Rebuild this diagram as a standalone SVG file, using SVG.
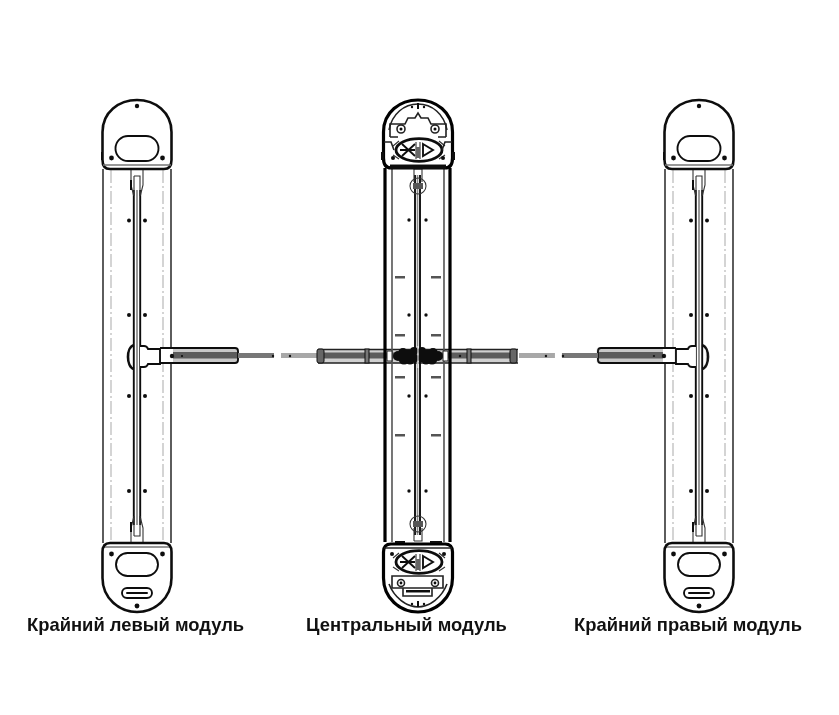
<svg xmlns="http://www.w3.org/2000/svg" width="839" height="715" viewBox="0 0 839 715">
<style>
.l{fill:none;stroke:#222;stroke-width:1.6}
.o{fill:none;stroke:#111;stroke-width:1.9}
.h{fill:none;stroke:#111;stroke-width:2.6}
.x{fill:none;stroke:#000;stroke-width:3.2}
.m{fill:none;stroke:#333;stroke-width:1.1}
.s{fill:none;stroke:#777;stroke-width:1.6}
.d{fill:none;stroke:#bdbdbd;stroke-width:1.3;stroke-dasharray:13 3 2 3}
.k{fill:#111}
.w{fill:#fff}
.t{font:bold 18.400px "Liberation Sans","DejaVu Sans",sans-serif;fill:#111}
</style>
<defs>
<filter id="b" x="-5%" y="-5%" width="110%" height="110%"><feGaussianBlur stdDeviation="0.4"/></filter>
<g id="side">
<path class="s" d="M-34 169V543M34 169V543" style="stroke:#333"/>
<path class="d" d="M-26 170V542M26 170V542"/>
<path class="o" d="M-3.200 190V525M3.200 190V525"/>
<path class="s" d="M0 190V525" style="stroke:#555;stroke-width:1.200"/>
<path class="m" d="M-6 169V185l2.500 10M6 169V185l-2.500 10M-3 176H3V196M-3 176V196M-6 542V528l2.500-10M6 542V528l-2.500-10M-3 536H3V516M-3 536V516"/>
<path class="k" d="M-7 180h2v10h-2zM-7 522h2v10h-2z"/>
<path class="h" d="M-34.500 132C-34.500 112-18 100 0 100S34.500 112 34.500 132V160Q34.500 169 27 169H-27Q-34.500 169-34.500 160Z"/>
<path class="s" d="M-34 165H34M-34 547H34"/>
<path class="k" d="M-36 152h2v8h-2z"/>
<path class="h" d="M-34.500 552Q-34.500 543-27 543H27Q34.500 543 34.500 552V578C34.500 598 18 612 0 612S-34.500 598-34.500 578Z"/>
<g class="k">
<circle cx="-8" cy="220.500" r="2"/><circle cx="8" cy="220.500" r="2"/>
<circle cx="-8" cy="315" r="2"/><circle cx="8" cy="315" r="2"/>
<circle cx="-8" cy="396" r="2"/><circle cx="8" cy="396" r="2"/>
<circle cx="-8" cy="491" r="2"/><circle cx="8" cy="491" r="2"/>
<circle cx="0" cy="106" r="2.200"/><circle cx="-25.500" cy="158" r="2.400"/><circle cx="25.500" cy="158" r="2.400"/>
<circle cx="0" cy="606" r="2.400"/><circle cx="-25.500" cy="554" r="2.400"/><circle cx="25.500" cy="554" r="2.400"/>
</g>
<rect class="o" x="-21.500" y="136" width="43" height="25" rx="12.500"/>
<rect class="o" x="-21" y="553" width="42" height="23" rx="11.500"/>
<rect class="o" x="-15" y="588" width="30" height="10" rx="5"/>
<rect class="k" x="-11" y="592" width="22" height="2" rx="1"/>
</g>
<g id="arm">
<path d="M-3 345C-11 347-11 367-3 369" class="h"/>
<path class="o" d="M3 346H7Q10 346 11 349H23V364H11Q10 367 7 367H3" style="fill:#fff"/>
<rect x="24" y="349" width="77" height="14" fill="#c8c8c8"/>
<rect x="24" y="349" width="12" height="14" fill="#fff"/>
<rect x="36" y="352" width="64" height="6.500" fill="#5c5c5c"/>
<path class="o" d="M23 348H98Q101 348 101 351V360Q101 363 98 363H23"/>
<rect x="101" y="353" width="36" height="5" fill="#777"/>
<rect x="144" y="353" width="36" height="5" fill="#a8a8a8"/>
<circle class="k" cx="35" cy="356" r="2.200"/><circle class="k" cx="45" cy="356" r="1.100"/>
<circle class="k" cx="136" cy="356" r="1.200"/><circle class="k" cx="153" cy="356" r="1.200"/>
</g>
<g id="ctab">
<ellipse cx="0" cy="0" rx="23" ry="11.300" fill="#fff" stroke="#111" stroke-width="2.800"/>
<path class="o" d="M-17-6L-4 6M-17 6L-4-6M-19 0H-4"/>
<path class="o" d="M4-6L14 0L4 6Z"/>
<path class="m" d="M-3-8V9M1-8V9M-20-9L-26-4M20-9L26-4M-20 9L-26 5M20 9L26 5"/>
<rect x="-3" y="-3" width="4" height="11" fill="#666"/>
</g>
</defs>
<g filter="url(#b)">
<g id="left-module" transform="translate(137 0)"><use href="#side"/><use href="#arm"/></g>
<g id="right-module" transform="translate(699 0)"><use href="#side"/><use href="#arm" transform="scale(-1 1)"/></g>
<g id="center-module" transform="translate(418 0)">
<g id="center-arm">
<rect x="-100" y="349" width="200" height="14" fill="#d0d0d0"/>
<rect x="-97" y="352.500" width="195" height="6" fill="#5c5c5c"/>
<path class="l" d="M-100 349.500H100M-100 363H100"/>
<rect x="-101" y="349" width="7" height="14" rx="2" fill="#666" stroke="#111"/>
<rect x="92" y="349" width="7" height="14" rx="2" fill="#666" stroke="#111"/>
<rect x="-53" y="349" width="4" height="14" fill="#777" stroke="#111"/>
<rect x="49" y="349" width="4" height="14" fill="#777" stroke="#111"/>
<circle class="k" cx="-28" cy="356" r="1.200"/><circle class="k" cx="42" cy="356" r="1.200"/>
</g>
<g id="center-body">
<path class="x" d="M-33 168V542M32 168V542"/>
<path class="s" d="M-26 168V542M26 168V542" style="stroke:#555"/>
<path class="o" d="M-3 175V535M2 175V535"/>
<path class="s" d="M-0.500 175V535" style="stroke:#888"/>
<circle class="m" cx="0" cy="186" r="8"/><circle class="m" cx="0" cy="524" r="8"/>
<rect x="-5" y="183" width="10" height="6" fill="#555"/><rect x="-5" y="521" width="10" height="6" fill="#555"/>
<path class="m" d="M-4 169H4V182M-4 169V182M-4 541H4V528M-4 541V528"/>
<g fill="#555">
<rect x="-23" y="276" width="10" height="2.500"/><rect x="13" y="276" width="10" height="2.500"/>
<rect x="-23" y="334" width="10" height="2.500"/><rect x="13" y="334" width="10" height="2.500"/>
<rect x="-23" y="376" width="10" height="2.500"/><rect x="13" y="376" width="10" height="2.500"/>
<rect x="-23" y="434" width="10" height="2.500"/><rect x="13" y="434" width="10" height="2.500"/>
</g>
<g class="k">
<circle cx="-9" cy="220" r="1.700"/><circle cx="8" cy="220" r="1.700"/>
<circle cx="-9" cy="315" r="1.700"/><circle cx="8" cy="315" r="1.700"/>
<circle cx="-9" cy="396" r="1.700"/><circle cx="8" cy="396" r="1.700"/>
<circle cx="-9" cy="491" r="1.700"/><circle cx="8" cy="491" r="1.700"/>
</g>
<rect x="-31" y="351" width="5" height="10" fill="#fff" stroke="#222"/><rect x="25" y="351" width="5" height="10" fill="#fff" stroke="#222"/>
<g class="k">
<circle cx="-20" cy="356" r="5"/><circle cx="-15" cy="353" r="5"/><circle cx="-14" cy="359" r="5.500"/><circle cx="-9" cy="354" r="4.500"/><circle cx="-8" cy="360" r="4.500"/><circle cx="-4" cy="351" r="4"/><circle cx="-4" cy="358" r="4.500"/>
<circle cx="4" cy="351" r="4"/><circle cx="4" cy="358" r="4.500"/><circle cx="9" cy="354" r="4.500"/><circle cx="8" cy="360" r="4.500"/><circle cx="15" cy="353" r="5"/><circle cx="14" cy="359" r="5.500"/><circle cx="20" cy="356" r="5"/>
</g>
<path stroke="#fff" fill="none" stroke-width="1" d="M0 346V368"/>
</g>
<g id="center-head-top">
<path class="x" d="M-34.500 132C-34.500 112-18 100 0 100S34.500 112 34.500 132V158Q34.500 168 27 168H-27Q-34.500 168-34.500 158Z"/>
<path class="l" d="M-29 130C-26 114-14 104 0 104S26 114 29 130"/>
<path class="l" d="M-28 137V124H-13L-10 118H-3L0 113L3 118H10L13 124H28V137"/>
<path class="l" d="M-28 137H-20M28 137H20"/>
<circle class="l" cx="-17" cy="129" r="4"/><circle class="l" cx="17" cy="129" r="4"/>
<circle class="k" cx="-17" cy="129" r="1.500"/><circle class="k" cx="17" cy="129" r="1.500"/>
<use href="#ctab" transform="translate(1 150)"/>
<rect class="k" x="-28" y="164.500" width="56" height="4"/>
<path class="l" d="M-34 142H-27L-24 150M34 142H27L24 150"/>
<circle class="k" cx="-25" cy="158" r="2"/><circle class="k" cx="25" cy="158" r="2"/>
<path class="k" d="M-37 152h3v8h-3zM34 152h3v8h-3z"/>
<rect class="k" x="-1" y="103" width="2" height="6"/><circle class="k" cx="-6" cy="107" r="1.200"/><circle class="k" cx="6" cy="107" r="1.200"/>
</g>
<g id="center-head-bottom">
<path class="k" d="M-23 541h10v3h-10zM12 541h12v3h-12z"/>
<path class="x" d="M-34.500 552Q-34.500 544-27 544H27Q34.500 544 34.500 552V578C34.500 598 18 612 0 612S-34.500 598-34.500 578Z"/>
<path class="l" d="M-29 584C-24 597-12 607 0 607S24 597 29 584"/>
<path class="l" d="M-34 548H34"/>
<path class="l" d="M-26 576H25V588H-26ZM-15 588V596H14V588"/>
<circle class="l" cx="-17" cy="583" r="3.500"/><circle class="l" cx="17" cy="583" r="3.500"/>
<circle class="k" cx="-17" cy="583" r="1.400"/><circle class="k" cx="17" cy="583" r="1.400"/>
<use href="#ctab" transform="translate(1 562)"/>
<rect class="k" x="-12" y="590" width="24" height="2.500"/>
<rect class="k" x="-1" y="601" width="2" height="6"/><circle class="k" cx="-6" cy="604" r="1.200"/><circle class="k" cx="6" cy="604" r="1.200"/>
<circle class="k" cx="-26" cy="554" r="2"/><circle class="k" cx="26" cy="554" r="2"/>
</g>
</g>
</g>
<g id="labels">
<text class="t" x="27" y="631">Крайний левый модуль</text>
<text class="t" x="306" y="631">Центральный модуль</text>
<text class="t" x="574" y="631">Крайний правый модуль</text>
</g>
</svg>
